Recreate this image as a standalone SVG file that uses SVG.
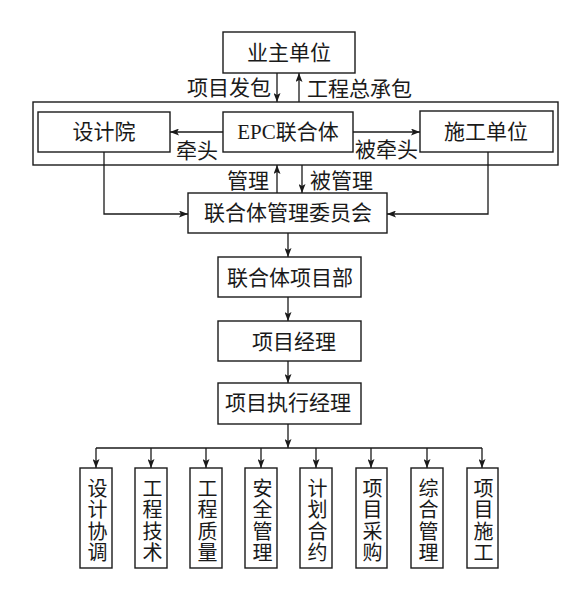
<svg xmlns="http://www.w3.org/2000/svg" width="573" height="593" viewBox="0 0 573 593">
<defs>
<marker id="ah" markerUnits="userSpaceOnUse" markerWidth="10" markerHeight="7" refX="9" refY="3.5" orient="auto">
<path d="M0,0 L9,3.5 L0,7 L2,3.5 z" fill="#1a1a1a"/>
</marker>
<style>
rect{fill:#fff;stroke:#1a1a1a;stroke-width:1.4}
.c{fill:none;stroke:#1a1a1a;stroke-width:1.3}
.a{marker-end:url(#ah)}
text{font-family:"Liberation Serif","Noto Sans CJK SC",serif;font-size:21px;fill:#1a1a1a;dominant-baseline:central}
.m{text-anchor:middle}
.e{text-anchor:end}
.v{writing-mode:vertical-rl;text-anchor:middle;font-size:20px;letter-spacing:1.5px}
</style>
</defs>
<rect id="outer" x="33" y="102" width="525" height="63"/>
<g id="yezhu"><rect x="223" y="32" width="132" height="41"/><text class="m" x="289" y="53">业主单位</text></g>
<g id="sheji"><rect x="38" y="112" width="132" height="40"/><text class="m" x="104" y="132">设计院</text></g>
<g id="epc"><rect x="223" y="112" width="130" height="40"/><text class="m" x="288" y="132">EPC联合体</text></g>
<g id="shigong"><rect x="420" y="111" width="133" height="41"/><text class="m" x="486" y="132">施工单位</text></g>
<g id="weiyuanhui"><rect x="188" y="193" width="199" height="40"/><text class="m" x="288" y="213">联合体管理委员会</text></g>
<g id="xiangmubu"><rect x="218" y="257" width="143" height="40"/><text class="m" x="290" y="278">联合体项目部</text></g>
<g id="jingli"><rect x="218" y="321" width="143" height="40"/><text class="m" x="294" y="342">项目经理</text></g>
<g id="zhixing"><rect x="218" y="383" width="143" height="41"/><text class="m" x="288" y="403">项目执行经理</text></g>
<g id="c1"><rect x="80" y="468" width="32" height="100"/><text class="v" x="96" y="521">设计协调</text></g>
<g id="c2"><rect x="135" y="468" width="32" height="100"/><text class="v" x="151" y="521">工程技术</text></g>
<g id="c3"><rect x="190" y="468" width="32" height="100"/><text class="v" x="206" y="521">工程质量</text></g>
<g id="c4"><rect x="245" y="468" width="32" height="100"/><text class="v" x="261" y="521">安全管理</text></g>
<g id="c5"><rect x="300" y="468" width="32" height="100"/><text class="v" x="316" y="521">计划合约</text></g>
<g id="c6"><rect x="356" y="468" width="31" height="100"/><text class="v" x="371" y="521">项目采购</text></g>
<g id="c7"><rect x="411" y="468" width="32" height="100"/><text class="v" x="427" y="521">综合管理</text></g>
<g id="c8"><rect x="467" y="468" width="31" height="100"/><text class="v" x="482" y="521">项目施工</text></g>
<g id="connectors">
<path class="c a" d="M277,73 V102"/>
<path class="c a" d="M299,102 V73"/>
<path class="c a" d="M223,132 H170"/>
<path class="c a" d="M353,132 H420"/>
<path class="c a" d="M277,193 V165"/>
<path class="c a" d="M302,165 V193"/>
<path class="c a" d="M104,152 V214 H188"/>
<path class="c a" d="M488,152 V214 H387"/>
<path class="c a" d="M288,233 V257"/>
<path class="c a" d="M288,297 V321"/>
<path class="c a" d="M288,361 V383"/>
<path class="c a" d="M288,424 V448"/>
<path class="c" d="M96,448 H482"/>
<path class="c a" d="M96,448 V468"/>
<path class="c a" d="M151,448 V468"/>
<path class="c a" d="M206,448 V468"/>
<path class="c a" d="M261,448 V468"/>
<path class="c a" d="M316,448 V468"/>
<path class="c a" d="M371,448 V468"/>
<path class="c a" d="M427,448 V468"/>
<path class="c a" d="M482,448 V468"/>
</g>
<g id="labels">
<text class="e" x="271" y="88">项目发包</text>
<text x="307" y="89">工程总承包</text>
<text x="176" y="151">牵头</text>
<text x="355" y="150">被牵头</text>
<text class="e" x="269" y="181">管理</text>
<text x="310" y="181">被管理</text>
</g>
</svg>
